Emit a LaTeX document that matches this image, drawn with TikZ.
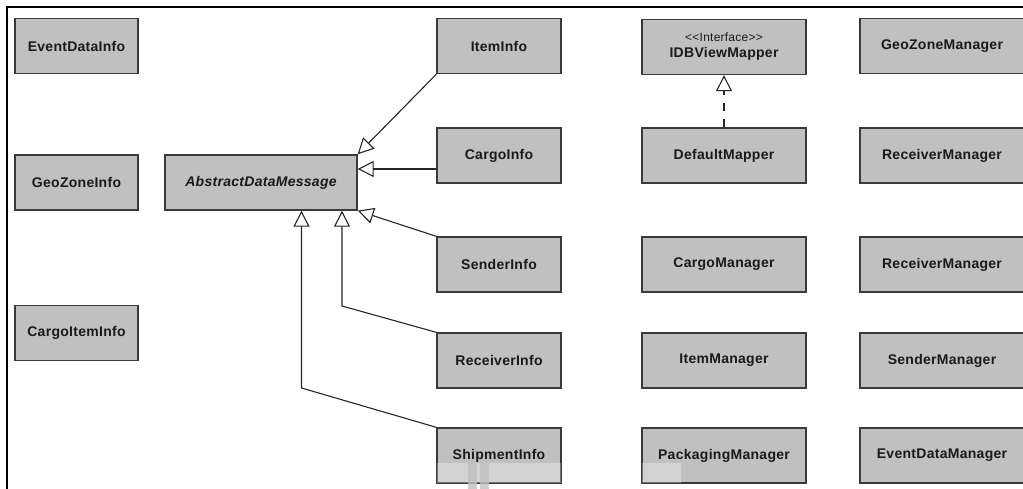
\documentclass[tikz,border=0pt]{standalone}
\usepackage{fontspec}
\setmainfont{Liberation Sans}
\usetikzlibrary{arrows.meta}
\definecolor{boxfill}{HTML}{C0C0C0}
\definecolor{boxline}{HTML}{3A3A3A}
\definecolor{txt}{HTML}{1A1A1A}
\newfontfamily\classfont[LetterSpace=2]{Liberation Sans}
\tikzset{
  cls/.style={draw=boxline, line width=1.3pt, fill=boxfill, minimum height=55pt,
    inner sep=0pt, text=txt, font=\classfont\fontsize{14}{16}\selectfont\bfseries},
  narrow/.style={cls, minimum width=123pt},
  wide/.style={cls, minimum width=164pt},
  gen/.style={draw=black!85, line width=1.1pt,
    -{Triangle[open, length=16pt, width=16pt, line width=1.1pt]}},
  real/.style={gen, dash pattern=on 8pt off 8pt},
}
\begin{document}
\begin{tikzpicture}[x=1pt, y=-1pt]
\useasboundingbox (0,0) rectangle (1023,489);
\begin{scope}
\clip (0,0) rectangle (1023,489);

% frame edges
\draw[line width=1.5pt] (7,489) -- (7,7) -- (1023,7);

% left column
\node[narrow] (eventdatainfo) at (76.5,46) {EventDataInfo};
\node[narrow] (geozoneinfo) at (76.5,182.5) {GeoZoneInfo};
\node[narrow] (cargoiteminfo) at (76.5,333) {CargoItemInfo};

% abstract base class
\node[cls, minimum width=192pt, font=\classfont\fontsize{14}{16}\selectfont\bfseries\itshape]
  (adm) at (261,182.5) {AbstractDataMessage};

% subclasses
\node[narrow, minimum width=124pt] (iteminfo) at (499,46) {ItemInfo};
\node[narrow, minimum width=124pt] (cargoinfo) at (499,155.5) {CargoInfo};
\node[narrow, minimum width=124pt] (senderinfo) at (499,264.5) {SenderInfo};
\node[narrow, minimum width=124pt] (receiverinfo) at (499,360.5) {ReceiverInfo};
\node[narrow, minimum width=124pt] (shipmentinfo) at (499,455.5) {ShipmentInfo};

% mappers and managers
\node[wide, align=center] (idbviewmapper) at (724,47)
  {{\fontsize{12}{13}\selectfont\mdseries <<Interface>>}\\[0pt]IDBViewMapper};
\node[wide] (defaultmapper) at (724,155.5) {DefaultMapper};
\node[wide] (cargomanager) at (724,264.5) {CargoManager};
\node[wide] (itemmanager) at (724,360.5) {ItemManager};
\node[wide] (packagingmanager) at (724,455.5) {PackagingManager};

\node[wide] (geozonemanager) at (942,46) {GeoZoneManager};
\node[wide] (receivermanager) at (942,155.5) {ReceiverManager};
\node[wide] (receivermanager2) at (942,264.5) {ReceiverManager};
\node[wide] (sendermanager) at (942,360.5) {SenderManager};
\node[wide] (eventdatamanager) at (942,455.5) {EventDataManager};

% generalisations
\draw[gen] (iteminfo.south west) -- (adm.north east);
\draw[gen] (cargoinfo.west |- 0,169) -- (adm.east |- 0,169);
\draw[gen] (senderinfo.north west) -- (adm.south east);
\draw[gen] (receiverinfo.north west) -- (342,306) -- (342,0 |- adm.south);
\draw[gen] (shipmentinfo.north west) -- (301.5,388) -- (301.5,0 |- adm.south);

% realisation
\draw[real] (defaultmapper.north) -- (idbviewmapper.south);

% light overlay at the lower edge
\fill[white, opacity=0.3] (437,463) rectangle (561,483);
\fill[white, opacity=0.3] (642,463) rectangle (681,483);
\fill[black!25, opacity=0.8] (468,463) rectangle (477,489);
\fill[black!25, opacity=0.8] (480,463) rectangle (489,489);
\end{scope}
\end{tikzpicture}
\end{document}
